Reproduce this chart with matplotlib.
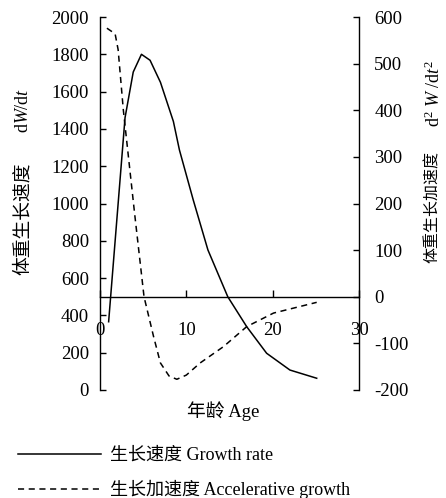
import matplotlib
matplotlib.use('Agg')
import matplotlib.pyplot as plt

plt.rcParams['font.family'] = ['Liberation Serif', 'Noto Sans CJK SC']
plt.rcParams['mathtext.fontset'] = 'custom'
plt.rcParams['mathtext.rm'] = 'Liberation Serif'
plt.rcParams['mathtext.it'] = 'Liberation Serif:italic'
plt.rcParams['axes.unicode_minus'] = False

# growth rate dW/dt (left axis)
rate_age = [1.0, 2.9, 3.85, 4.8, 5.8, 7.0, 8.5, 9.2, 10.8, 12.5, 14.8, 17.0, 19.3, 22.0, 25.1]
rate = [366, 1460, 1705, 1800, 1768, 1650, 1440, 1287, 1019, 751, 500, 339, 197, 107, 63]

# accelerative growth d2W/dt2 (right axis)
acc_age = [0.8, 1.75, 2.1, 2.7, 3.0, 4.0, 5.1, 6.2, 7.0, 8.0, 8.9, 10.0, 11.6, 14.3, 17.0, 20.1, 25.1]
acc = [576, 564, 530, 401, 350, 180, 0, -85, -142, -170, -177, -168, -142, -107, -64, -35, -12]

x_ticks = [0, 10, 20, 30]
left_ticks = list(range(0, 2001, 200))
right_ticks = list(range(-200, 601, 100))

W, H = 446, 498
fig = plt.figure(figsize=(W / 100, H / 100), dpi=100)
ax = fig.add_axes([100 / W, 1 - 390 / H, 259 / W, 373 / H])
ax2 = ax.twinx()

l1, = ax.plot(rate_age, rate, color='black', lw=1.1)
l2, = ax2.plot(acc_age, acc, color='black', lw=1.1, ls=(0, (4, 3)))

ax.set_xlim(0, 30)
ax.set_ylim(0, 2000)
ax2.set_ylim(-200, 600)

for s in ['top', 'right']:
    ax.spines[s].set_visible(False)
ax.spines['bottom'].set_position(('axes', 0.25))
for s in ['top', 'bottom', 'left']:
    ax2.spines[s].set_visible(False)
for a in (ax, ax2):
    for s in a.spines.values():
        s.set_linewidth(1.0)

ax.set_xticks(x_ticks)
ax.set_yticks(left_ticks)
ax2.set_yticks(right_ticks)
ax.tick_params(axis='x', direction='in', length=5, width=1, pad=18, labelsize=13.5)
ax.tick_params(axis='y', direction='in', length=4.5, width=1, pad=8, labelsize=13.5)
ax2.tick_params(axis='y', direction='in', length=4.5, width=1, pad=11, labelsize=13.5)

# axis titles: CJK part and formula part drawn separately
fig.text(23 / W, 1 - 275 / H, '体重生长速度', rotation=90, ha='center', va='bottom', fontsize=13.5)
fig.text(24 / W, 1 - 88 / H, 'd$\\it{W}$/d$\\it{t}$', rotation=90, ha='center', va='top', fontsize=13)
fig.text(433 / W, 1 - 263 / H, '体重生长加速度', rotation=90, ha='center', va='bottom', fontsize=11.5)
fig.text(434 / W, 1 - 60 / H, 'd$^2$ $\\it{W}$ /d$\\it{t}^2$', rotation=90, ha='center', va='top', fontsize=13)
fig.text(223 / W, 1 - 411 / H, '年龄 Age', ha='center', va='center', fontsize=13.5)

fig.legend([l1, l2], ['生长速度 Growth rate', '生长加速度 Accelerative growth'],
           loc='upper left', bbox_to_anchor=(18 / W, 1 - 447 / H), frameon=False,
           fontsize=13, handlelength=4.6, handletextpad=0.5, labelspacing=0.9,
           borderpad=0, borderaxespad=0)

fig.savefig('out.png', dpi=100)
